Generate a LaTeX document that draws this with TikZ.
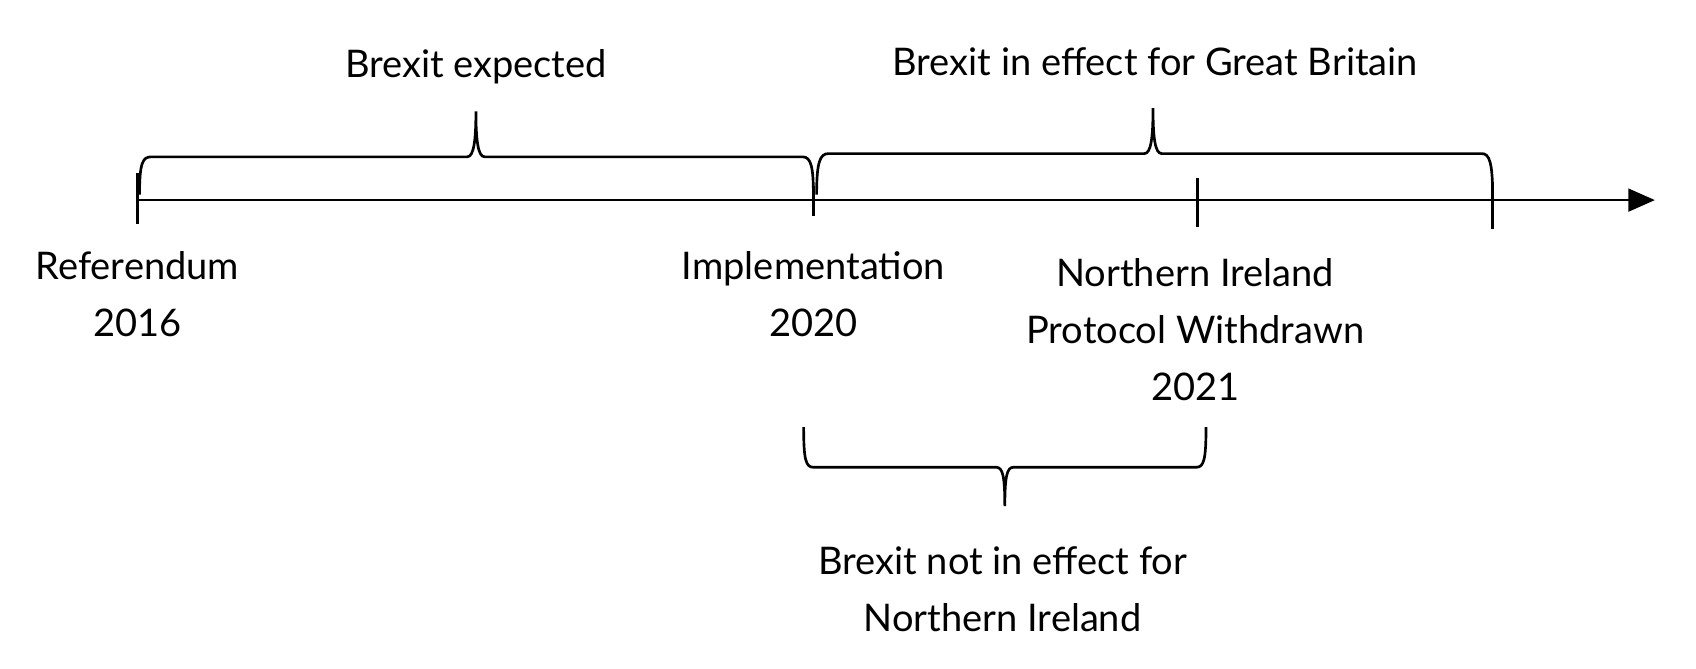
\documentclass[tikz,border=0pt]{standalone}
\usepackage{fontspec}
\setmainfont{Lato}
\usetikzlibrary{positioning, arrows.meta}

\begin{document}
\begin{tikzpicture}[x=0.01cm, y=-0.01cm, line width=0.7pt,
    lbl/.style={align=center, font=\fontsize{10}{15}\selectfont, inner sep=0pt}]
    \useasboundingbox (0,0) rectangle (1568,618);

    % axis and ticks
    \coordinate (start) at (127,185);
    \coordinate (tip) at (1530,185);
    \draw[-{Triangle[length=7pt, width=6pt]}] (start) -- (tip);
    \coordinate (t1a) at (127,160); \coordinate (t1b) at (127,207);
    \coordinate (t2a) at (752,172); \coordinate (t2b) at (752,200);
    \coordinate (t3a) at (1107,165); \coordinate (t3b) at (1107,210);
    \coordinate (t4a) at (1380,168); \coordinate (t4b) at (1380,212);
    \draw (t1a) -- (t1b);
    \draw (t2a) -- (t2b);
    \draw (t3a) -- (t3b);
    \draw (t4a) -- (t4b);

    % dates
    \node[lbl] (ref) at (127,272) {Referendum\\2016};
    \node[lbl] (impl) at (752,272) {Implementation\\2020};
    \node[lbl] (nip) at (1105,305) {Northern Ireland\\Protocol Withdrawn\\2021};

    % braces
    \draw (129,180) .. controls (129,150) and (132,145) .. (140,145) -- (432,145)
          .. controls (438,145) and (440,130) .. (440,103)
          .. controls (440,130) and (442,145) .. (448,145) -- (742,145)
          .. controls (750,145) and (752,155) .. (752,180);
    \draw (755,180) .. controls (755,150) and (758,142) .. (766,142) -- (1058,142)
          .. controls (1064,142) and (1066,128) .. (1066,100)
          .. controls (1066,128) and (1068,142) .. (1074,142) -- (1370,142)
          .. controls (1377,142) and (1380,150) .. (1380,182);
    \draw (743,395) .. controls (743,425) and (745,432) .. (752,432) -- (921,432)
          .. controls (927,432) and (929,440) .. (929,468)
          .. controls (929,440) and (931,432) .. (937,432) -- (1106,432)
          .. controls (1113,432) and (1115,425) .. (1115,395);

    % brace labels
    \node[lbl] (exp) at (440,62) {Brexit expected};
    \node[lbl] (gb) at (1068,57) {Brexit in effect for Great Britain};
    \node[lbl] (ni) at (927,545) {Brexit not in effect for\\Northern Ireland};
\end{tikzpicture}
\end{document}
